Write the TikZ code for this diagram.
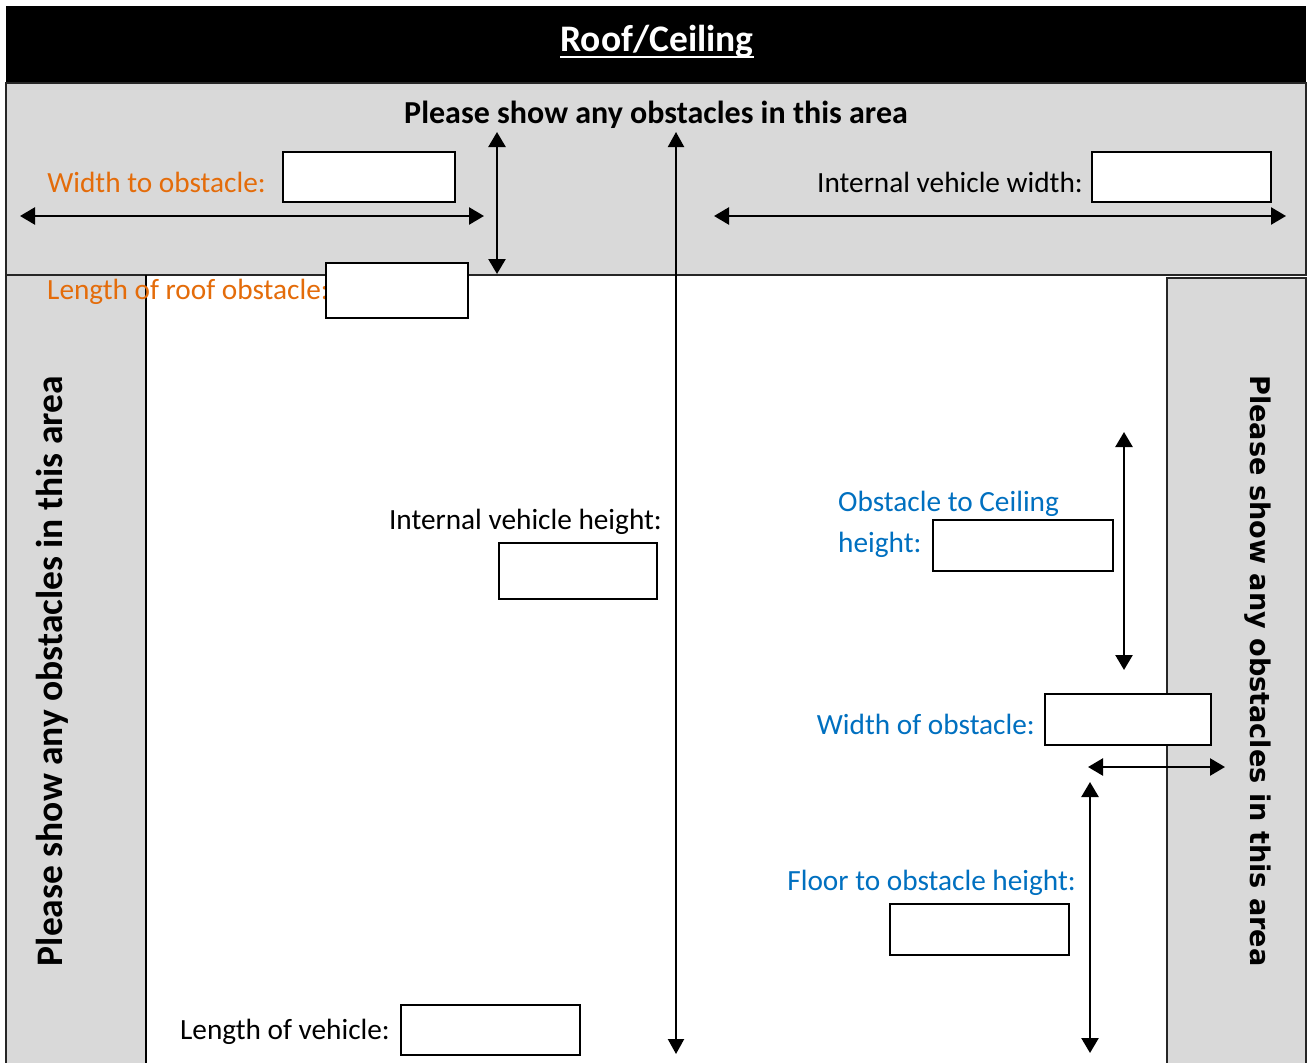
\documentclass[tikz,border=0pt]{standalone}
\usepackage{fontspec}
\setmainfont{Carlito}
\newfontfamily\dejavu{DejaVu Sans}
\usetikzlibrary{arrows.meta}
\definecolor{areagray}{RGB}{217,217,217}
\definecolor{orangetxt}{RGB}{228,108,10}
\definecolor{bluetxt}{RGB}{0,112,192}
\tikzset{
  area/.style={fill=areagray, draw=black!85, line width=1.6pt},
  inbox/.style={draw=black, line width=1.8pt, fill=white, inner sep=0pt, outer sep=0pt},
  lbl/.style={inner sep=0pt, font=\fontsize{29.3}{33}\selectfont},
  dimarrow/.style={line width=2.5pt, {Triangle[length=15pt,width=17pt]}-{Triangle[length=15pt,width=17pt]}},
  thinarrow/.style={line width=2.1pt, {Triangle[length=15pt,width=16pt]}-{Triangle[length=15pt,width=16pt]}},
}
\begin{document}
\begin{tikzpicture}[x=1pt,y=-1pt]
\useasboundingbox (0,0) rectangle (1308,1062);
\clip (0,0) rectangle (1308,1062);
\fill[white] (0,0) rectangle (1308,1062);
% header
\fill[black] (6,6) rectangle (1306,83);
\node[inner sep=0pt, text=white, font=\fontsize{37.5}{42}\selectfont\bfseries] (title) at (657,42) {Roof/Ceiling};
\draw[white, line width=2.4pt] ([yshift=-5pt]title.base west) -- ([yshift=-5pt]title.base east);
% grey areas
\draw[area] (6,83) rectangle (1306,275);
\draw[area] (6,275) rectangle (146,1070);
\draw[area] (1167,278) rectangle (1306,1070);
\draw[black, line width=1.6pt] (146,275) -- (146,1070);
% area texts
\node[inner sep=0pt, font=\fontsize{32}{36}\selectfont\bfseries] (toptxt) at (656,115) {Please show any obstacles in this area};
\node[inner sep=0pt, rotate=90, font=\fontsize{37.5}{42}\selectfont\bfseries] (lefttxt) at (52,671) {Please show any obstacles in this area};
\node[inner sep=0pt, rotate=-90, font=\dejavu\fontsize{27.1}{31}\selectfont\bfseries] (righttxt) at (1258,671) {Please show any obstacles in this area};
% top area labels and boxes
\node[lbl, text=orangetxt, anchor=east] (wto) at (266,182) {Width to obstacle:};
\node[inbox, minimum width=172pt, minimum height=50pt] (wtobox) at (369,177) {};
\node[lbl, anchor=east] (ivw) at (1083,182) {Internal vehicle width:};
\node[inbox, minimum width=179pt, minimum height=50pt] (ivwbox) at (1181.5,177) {};
\coordinate (a1l) at (20,216);
\coordinate (a1r) at (484,216);
\draw[dimarrow] (a1l) -- (a1r);
\coordinate (a2t) at (497,132);
\coordinate (a2b) at (497,274);
\draw[dimarrow] (a2t) -- (a2b);
\coordinate (a3l) at (714,216);
\coordinate (a3r) at (1286,216);
\draw[dimarrow] (a3l) -- (a3r);
% length of roof obstacle
\node[lbl, text=orangetxt, anchor=west] (lro) at (47,292) {Length of roof obstacle:};
\node[inbox, minimum width=142pt, minimum height=55pt] (lrobox) at (397,290.5) {};
% long vertical arrow
\coordinate (a4t) at (676,132);
\coordinate (a4b) at (676,1054);
\draw[thinarrow] (a4t) -- (a4b);
% internal vehicle height
\node[lbl, anchor=east] (ivh) at (662,522) {Internal vehicle height:};
\node[inbox, minimum width=158pt, minimum height=56pt] (ivhbox) at (578,571) {};
% obstacle to ceiling
\node[lbl, text=bluetxt, anchor=west] (otc1) at (838,504) {Obstacle to Ceiling};
\node[lbl, text=bluetxt, anchor=west] (otc2) at (838,545) {height:};
\node[inbox, minimum width=180pt, minimum height=51pt] (otcbox) at (1023,545.5) {};
\coordinate (a5t) at (1124,432);
\coordinate (a5b) at (1124,670);
\draw[dimarrow] (a5t) -- (a5b);
% width of obstacle
\node[lbl, text=bluetxt, anchor=east] (woo) at (1035,724) {Width of obstacle:};
\node[inbox, minimum width=166pt, minimum height=51pt] (woobox) at (1128,719.5) {};
\coordinate (a6l) at (1088,767);
\coordinate (a6r) at (1225,767);
\draw[dimarrow] (a6l) -- (a6r);
% floor to obstacle
\coordinate (a7t) at (1090,782);
\coordinate (a7b) at (1090,1053);
\draw[dimarrow] (a7t) -- (a7b);
\node[lbl, text=bluetxt, anchor=east] (fto) at (1076,883) {Floor to obstacle height:};
\node[inbox, minimum width=179pt, minimum height=51pt] (ftobox) at (979.5,929.5) {};
% length of vehicle
\node[lbl, anchor=east] (lov) at (390,1032) {Length of vehicle:};
\node[inbox, minimum width=179pt, minimum height=50pt] (lovbox) at (490.5,1030) {};
\end{tikzpicture}
\end{document}
